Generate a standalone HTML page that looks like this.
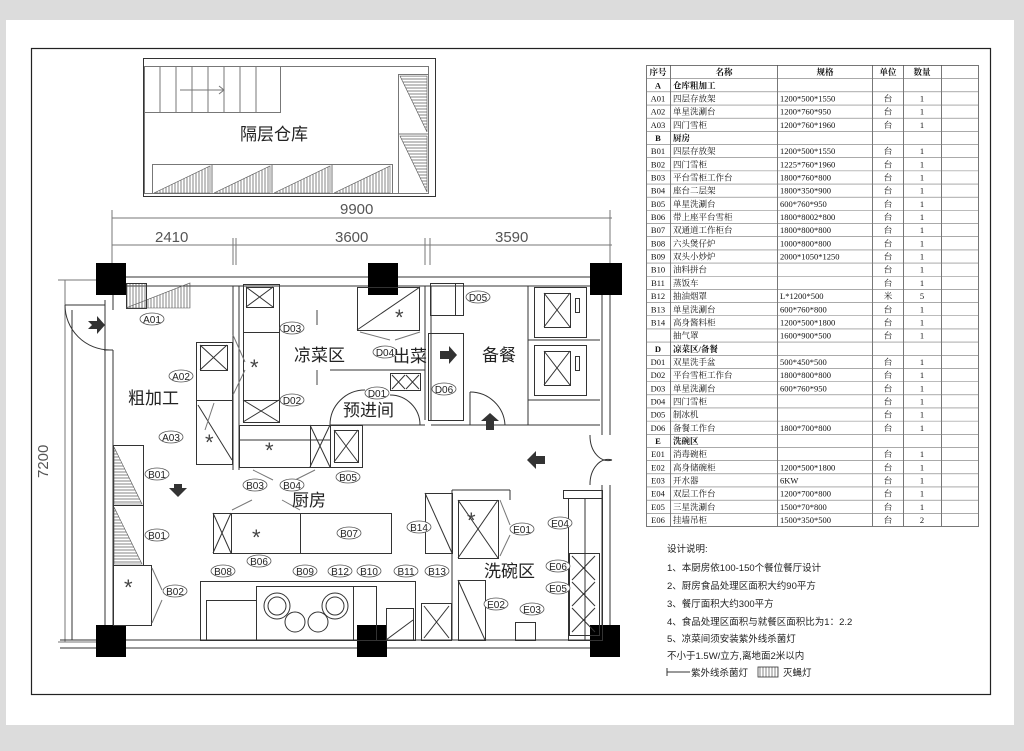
<!DOCTYPE html>
<html><head><meta charset="utf-8"><style>
html,body{margin:0;padding:0;background:#dcdcdc;}
svg{display:block}
text{font-family:"Liberation Sans","Noto Sans CJK SC",sans-serif;fill:#222}
.t{font-family:"Liberation Serif","Noto Serif CJK SC",serif;font-size:8.5px;fill:#111}
.l{fill:none;stroke:#333;stroke-width:1}
.g{fill:none;stroke:#777;stroke-width:1}
.lb{font-size:10px;fill:#333;text-anchor:middle;font-family:"Liberation Serif",serif}
.ov{fill:#fff;stroke:#555;stroke-width:0.8}
.rm{font-size:17px;fill:#222;font-family:"Liberation Sans","Noto Sans CJK SC",sans-serif}
</style></head><body>
<svg width="1024" height="751" viewBox="0 0 1024 751" xmlns="http://www.w3.org/2000/svg">
<rect x="0" y="0" width="1024" height="751" fill="#dcdcdc"/>
<rect x="6" y="20" width="1008" height="705" fill="#fff"/>
<rect x="31.5" y="48.5" width="959" height="646" fill="none" stroke="#222" stroke-width="1.2"/>

<!-- storage -->
<rect x="143.5" y="58.5" width="292" height="138" class="l"/>
<rect x="144.5" y="66.5" width="284" height="127" class="g"/>
<rect x="144.5" y="66.5" width="136" height="46" class="g"/>
<g class="g"><line x1="160" y1="66" x2="160" y2="112"/><line x1="176" y1="66" x2="176" y2="112"/><line x1="192" y1="66" x2="192" y2="112"/><line x1="208" y1="66" x2="208" y2="112"/><line x1="224" y1="66" x2="224" y2="112"/><line x1="240" y1="66" x2="240" y2="112"/><line x1="256" y1="66" x2="256" y2="112"/><line x1="180" y1="90" x2="224" y2="90"/><polyline points="219,86 224,90 219,94"/></g>
<text x="240" y="140" font-size="17">隔层仓库</text>
<g class="g">
<rect x="152.5" y="164.5" width="240" height="29"/>
<line x1="212" y1="164" x2="212" y2="193"/><line x1="272" y1="164" x2="272" y2="193"/><line x1="332" y1="164" x2="332" y2="193"/>
<rect x="398.5" y="74.5" width="30" height="119"/><line x1="398" y1="134" x2="428" y2="134"/>
</g>
<defs><pattern id="h" width="3" height="3" patternUnits="userSpaceOnUse"><line x1="1" y1="0" x2="1" y2="3" stroke="#666" stroke-width="0.8"/></pattern>
<pattern id="hh" width="3" height="3" patternUnits="userSpaceOnUse"><line x1="0" y1="1" x2="3" y2="1" stroke="#666" stroke-width="0.8"/></pattern></defs>
<g fill="url(#h)" stroke="#555" stroke-width="0.6">
<polygon points="154,193 210,166 210,193"/><polygon points="214,193 270,166 270,193"/><polygon points="274,193 330,166 330,193"/><polygon points="334,193 390,166 390,193"/>
</g>
<g fill="url(#hh)" stroke="#555" stroke-width="0.6">
<polygon points="400,76 427,76 427,132"/><polygon points="400,136 427,136 427,192"/>
</g>

<!-- dimensions -->
<g class="g">
<line x1="112" y1="218" x2="612" y2="218"/>
<line x1="112" y1="245" x2="612" y2="245"/>
<line x1="112" y1="210" x2="112" y2="265"/><line x1="233" y1="238" x2="233" y2="265"/><line x1="236" y1="238" x2="236" y2="265"/>
<line x1="425" y1="238" x2="425" y2="265"/><line x1="430" y1="238" x2="430" y2="265"/><line x1="610" y1="210" x2="610" y2="265"/>
<line x1="65" y1="280" x2="65" y2="642"/><line x1="58" y1="280" x2="112" y2="280"/><line x1="58" y1="642" x2="112" y2="642"/>
</g>
<g font-size="15" fill="#555"><text x="340" y="214" style="fill:#555">9900</text><text x="155" y="242" style="fill:#555">2410</text><text x="335" y="242" style="fill:#555">3600</text><text x="495" y="242" style="fill:#555">3590</text>
<text transform="translate(48,478) rotate(-90)" style="fill:#555">7200</text></g>

<!-- walls -->
<g class="l">
<line x1="96" y1="277" x2="612" y2="277"/><line x1="126" y1="286" x2="600" y2="286"/>
<line x1="105" y1="300" x2="105" y2="640"/><line x1="113" y1="440" x2="113" y2="625"/><line x1="65" y1="305" x2="105" y2="305"/><line x1="113" y1="295" x2="113" y2="310"/>
<line x1="72" y1="310" x2="72" y2="640"/>
<path d="M65,305 A45,45 0 0 0 110,350"/><line x1="104" y1="350" x2="113" y2="350"/><line x1="113" y1="350" x2="113" y2="440"/>
<line x1="233" y1="286" x2="233" y2="470"/><line x1="239" y1="286" x2="239" y2="470"/>
<line x1="425" y1="286" x2="425" y2="420"/><line x1="431" y1="286" x2="431" y2="420"/>
<line x1="602" y1="290" x2="602" y2="435"/><line x1="610" y1="290" x2="610" y2="435"/><line x1="602" y1="485" x2="602" y2="625"/><line x1="610" y1="485" x2="610" y2="625"/>
<path d="M590,435 A18,25 0 0 0 612,460 M590,485 A18,25 0 0 1 612,460"/>
<line x1="60" y1="640" x2="620" y2="640"/><line x1="60" y1="648" x2="620" y2="648"/>
<line x1="330" y1="370" x2="425" y2="370"/><line x1="330" y1="425" x2="425" y2="425"/>
<path d="M330,425 A35,35 0 0 1 365,390"/><path d="M420,425 A30,30 0 0 0 390,395"/>
<line x1="470" y1="392" x2="470" y2="425"/><path d="M470,392 A35,35 0 0 1 505,425"/>
<line x1="431" y1="425" x2="600" y2="425"/>
<line x1="528" y1="286" x2="528" y2="425"/>
<line x1="452" y1="490" x2="510" y2="490"/><line x1="452" y1="490" x2="452" y2="640"/><line x1="510" y1="490" x2="510" y2="500"/>
</g>
<g fill="#000"><rect x="96" y="263" width="30" height="32"/><rect x="368" y="263" width="30" height="32"/><rect x="590" y="263" width="32" height="32"/>
<rect x="96" y="625" width="30" height="32"/><rect x="357" y="625" width="30" height="32"/><rect x="590" y="625" width="30" height="32"/></g>

<!-- equipment -->
<g class="l">
<rect x="126.5" y="283.5" width="20" height="25" fill="url(#h)"/>
<rect x="196.5" y="342.5" width="36" height="58"/><rect x="200.5" y="345.5" width="27" height="25"/><path d="M200,345 L227,370 M227,345 L200,370"/>
<rect x="196.5" y="400.5" width="36" height="64"/><line x1="198" y1="405" x2="232" y2="460"/>
<rect x="243.5" y="284.5" width="36" height="48"/><rect x="246.5" y="287.5" width="27" height="20"/><path d="M246,287 L273,307 M273,287 L246,307"/>
<rect x="243.5" y="332.5" width="36" height="68"/>
<rect x="243.5" y="400.5" width="36" height="22"/><path d="M243,400 L279,422 M279,400 L243,422"/>
<rect x="239.5" y="425.5" width="91" height="42"/><line x1="239" y1="440" x2="330" y2="440"/><rect x="310.5" y="425.5" width="20" height="42"/><path d="M310,425 L330,467 M330,425 L310,467"/>
<rect x="330.5" y="425.5" width="32" height="42"/><rect x="334.5" y="430.5" width="24" height="32"/><path d="M334,430 L358,462 M358,430 L334,462"/>
<rect x="113.5" y="445.5" width="30" height="60"/><rect x="113.5" y="505.5" width="30" height="60"/>
<rect x="113.5" y="565.5" width="38" height="60"/>
<rect x="213.5" y="513.5" width="87" height="40"/><rect x="213.5" y="513.5" width="18" height="40"/><path d="M213,513 L231,553 M231,513 L213,553"/>
<rect x="300.5" y="513.5" width="91" height="40"/>
<rect x="425.5" y="493.5" width="27" height="60"/><line x1="425" y1="493" x2="452" y2="553"/>
<rect x="458.5" y="500.5" width="40" height="58"/><path d="M458,500 L498,558 M498,500 L458,558"/>
<rect x="357.5" y="287.5" width="62" height="43"/><line x1="357" y1="330" x2="420" y2="287"/>
<rect x="430.5" y="283.5" width="33" height="32"/><rect x="455.5" y="283.5" width="8" height="32"/>
<rect x="428.5" y="333.5" width="35" height="87"/>
<rect x="390.5" y="373.5" width="30" height="17"/><path d="M392,375 L405,389 M405,375 L392,389 M406,375 L419,389 M419,375 L406,389"/>
<rect x="534.5" y="287.5" width="52" height="50"/><rect x="544.5" y="293.5" width="26" height="34"/><path d="M544,293 L570,327 M570,293 L544,327"/><rect x="575.5" y="298.5" width="4" height="14"/>
<rect x="534.5" y="345.5" width="52" height="50"/><rect x="544.5" y="351.5" width="26" height="34"/><path d="M544,351 L570,385 M570,351 L544,385"/><rect x="575.5" y="356.5" width="4" height="14"/>
<line x1="528" y1="340" x2="600" y2="340"/><line x1="528" y1="400" x2="600" y2="400"/>
<rect x="200.5" y="581.5" width="215" height="59"/>
<rect x="206.5" y="600.5" width="50" height="40"/>
<rect x="256.5" y="586.5" width="97" height="54"/><rect x="353.5" y="586.5" width="23" height="54"/>
<circle cx="277" cy="606" r="13"/><circle cx="277" cy="606" r="9"/><circle cx="335" cy="606" r="13"/><circle cx="335" cy="606" r="9"/>
<circle cx="295" cy="622" r="10"/><circle cx="318" cy="622" r="10"/>
<rect x="386.5" y="608.5" width="27" height="32"/><line x1="386" y1="640" x2="413" y2="620"/>
<rect x="421.5" y="603.5" width="30" height="37"/><path d="M424,606 L449,638 M449,606 L424,638"/>
<rect x="458.5" y="580.5" width="27" height="60"/><line x1="458" y1="580" x2="485" y2="640"/>
<rect x="515.5" y="622.5" width="20" height="18"/>
<rect x="563.5" y="490.5" width="39" height="8"/><rect x="568.5" y="498.5" width="34" height="142"/><line x1="585" y1="498" x2="585" y2="640"/>
<rect x="569.5" y="553.5" width="30" height="82"/>
<path d="M572,556 L595,580 M595,556 L572,580 M572,582 L595,606 M595,582 L572,606 M572,608 L595,632 M595,608 L572,632"/>
</g>
<g fill="url(#hh)" stroke="#555" stroke-width="0.6"><polygon points="114,447 114,504 142,504"/><polygon points="114,507 114,564 142,564"/></g>
<g fill="url(#h)" stroke="#555" stroke-width="0.6"><polygon points="126,308 190,283 190,308"/></g>
<g font-size="22" fill="#444"><text x="250" y="375" style="fill:#444">*</text><text x="205" y="450" style="fill:#444">*</text><text x="265" y="458" style="fill:#444">*</text><text x="395" y="325" style="fill:#444">*</text><text x="252" y="545" style="fill:#444">*</text><text x="124" y="595" style="fill:#444">*</text><text x="467" y="528" style="fill:#444">*</text></g>
<g class="g" stroke="#444" stroke-width="2.5"><line x1="214" y1="403" x2="205" y2="430"/><line x1="233" y1="335" x2="245" y2="362"/><line x1="233" y1="395" x2="245" y2="370"/><line x1="253" y1="470" x2="273" y2="480"/><line x1="315" y1="470" x2="295" y2="480"/><line x1="232" y1="510" x2="252" y2="500"/><line x1="300" y1="510" x2="282" y2="500"/><line x1="152" y1="568" x2="162" y2="590"/><line x1="152" y1="623" x2="162" y2="600"/><line x1="500" y1="500" x2="510" y2="525"/><line x1="500" y1="556" x2="510" y2="535"/><line x1="360" y1="332" x2="390" y2="340"/><line x1="420" y1="332" x2="395" y2="340"/></g>
<g stroke="#444" stroke-width="1"><line x1="317" y1="310" x2="317" y2="325"/><line x1="317" y1="370" x2="317" y2="385"/></g>

<!-- arrows -->
<g fill="#333">
<polygon points="88,321 97,321 97,316 105,325 97,334 97,329 88,329 92,325"/>
<polygon points="440,351 449,351 449,346 457,355 449,364 449,359 440,359"/>
<polygon points="486,430 486,421 481,421 490,413 499,421 494,421 494,430"/>
<polygon points="545,456 536,456 536,451 527,460 536,469 536,464 545,464"/>
<polygon points="174,484 174,488 169,488 178,497 187,488 182,488 182,484"/>
</g>

<!-- labels -->
<g>
<g class="ov">
<ellipse cx="152" cy="319" rx="12" ry="6"/><ellipse cx="181" cy="376" rx="12" ry="6"/><ellipse cx="171" cy="437" rx="12" ry="6"/>
<ellipse cx="292" cy="328" rx="12" ry="6"/><ellipse cx="292" cy="400" rx="12" ry="6"/><ellipse cx="377" cy="393" rx="12" ry="6"/>
<ellipse cx="478" cy="297" rx="12" ry="6"/><ellipse cx="444" cy="389" rx="12" ry="6"/><ellipse cx="157" cy="474" rx="12" ry="6"/>
<ellipse cx="157" cy="535" rx="12" ry="6"/><ellipse cx="175" cy="591" rx="12" ry="6"/><ellipse cx="255" cy="485" rx="12" ry="6"/>
<ellipse cx="292" cy="485" rx="12" ry="6"/><ellipse cx="348" cy="477" rx="12" ry="6"/><ellipse cx="259" cy="561" rx="12" ry="6"/>
<ellipse cx="349" cy="533" rx="12" ry="6"/><ellipse cx="223" cy="571" rx="12" ry="6"/><ellipse cx="305" cy="571" rx="12" ry="6"/>
<ellipse cx="340" cy="571" rx="12" ry="6"/><ellipse cx="369" cy="571" rx="12" ry="6"/><ellipse cx="406" cy="571" rx="12" ry="6"/>
<ellipse cx="437" cy="571" rx="12" ry="6"/><ellipse cx="419" cy="527" rx="12" ry="6"/><ellipse cx="522" cy="529" rx="12" ry="6"/>
<ellipse cx="560" cy="523" rx="12" ry="6"/><ellipse cx="558" cy="566" rx="12" ry="6"/><ellipse cx="558" cy="588" rx="12" ry="6"/>
<ellipse cx="496" cy="604" rx="12" ry="6"/><ellipse cx="532" cy="609" rx="12" ry="6"/><ellipse cx="385" cy="352" rx="12" ry="6"/>
</g>
<g class="lb">
<text x="152" y="323">A01</text><text x="181" y="380">A02</text><text x="171" y="441">A03</text>
<text x="292" y="332">D03</text><text x="292" y="404">D02</text><text x="377" y="397">D01</text>
<text x="478" y="301">D05</text><text x="444" y="393">D06</text><text x="157" y="478">B01</text>
<text x="157" y="539">B01</text><text x="175" y="595">B02</text><text x="255" y="489">B03</text>
<text x="292" y="489">B04</text><text x="348" y="481">B05</text><text x="259" y="565">B06</text>
<text x="349" y="537">B07</text><text x="223" y="575">B08</text><text x="305" y="575">B09</text>
<text x="340" y="575">B12</text><text x="369" y="575">B10</text><text x="406" y="575">B11</text>
<text x="437" y="575">B13</text><text x="419" y="531">B14</text><text x="522" y="533">E01</text>
<text x="560" y="527">E04</text><text x="558" y="570">E06</text><text x="558" y="592">E05</text>
<text x="496" y="608">E02</text><text x="532" y="613">E03</text><text x="385" y="356">D04</text>
</g>
<text class="rm" x="128" y="404">粗加工</text>
<text class="rm" x="294" y="361">凉菜区</text>
<text class="rm" x="393" y="362">出菜</text>
<text class="rm" x="482" y="361">备餐</text>
<text class="rm" x="343" y="416">预进间</text>
<text class="rm" x="292" y="506">厨房</text>
<text class="rm" x="484" y="577">洗碗区</text>
</g>

<!-- table -->
<g stroke="#555" stroke-width="0.8" fill="none">
<rect x="646.5" y="65.5" width="332" height="461"/>
<line x1="670.5" y1="65" x2="670.5" y2="526"/><line x1="777.5" y1="65" x2="777.5" y2="526"/><line x1="872.5" y1="65" x2="872.5" y2="526"/><line x1="903.5" y1="65" x2="903.5" y2="526"/><line x1="941.5" y1="65" x2="941.5" y2="526"/>
</g>
<g id="rows" stroke="#777" stroke-width="0.6"></g>
<g id="tt"></g>
<script>
(function(){
var rows=[["序号","名称","规格","单位","数量"],["A","仓库粗加工","","",""],["A01","四层存放架","1200*500*1550","台","1"],["A02","单星洗涮台","1200*760*950","台","1"],["A03","四门雪柜","1200*760*1960","台","1"],["B","厨房","","",""],["B01","四层存放架","1200*500*1550","台","1"],["B02","四门雪柜","1225*760*1960","台","1"],["B03","平台雪柜工作台","1800*760*800","台","1"],["B04","座台二层架","1800*350*900","台","1"],["B05","单星洗涮台","600*760*950","台","1"],["B06","带上座平台雪柜","1800*8002*800","台","1"],["B07","双通道工作柜台","1800*800*800","台","1"],["B08","六头煲仔炉","1000*800*800","台","1"],["B09","双头小炒炉","2000*1050*1250","台","1"],["B10","油料拼台","","台","1"],["B11","蒸饭车","","台","1"],["B12","抽油烟罩","L*1200*500","米","5"],["B13","单星洗涮台","600*760*800","台","1"],["B14","高身酱料柜","1200*500*1800","台","1"],["","抽气罩","1600*900*500","台","1"],["D","凉菜区/备餐","","",""],["D01","双星洗手盆","500*450*500","台","1"],["D02","平台雪柜工作台","1800*800*800","台","1"],["D03","单星洗涮台","600*760*950","台","1"],["D04","四门雪柜","","台","1"],["D05","制冰机","","台","1"],["D06","备餐工作台","  1800*700*800","台","1"],["E","洗碗区","","",""],["E01","消毒碗柜","","台","1"],["E02","高身储碗柜","1200*500*1800","台","1"],["E03","开水器","6KW","台","1"],["E04","双层工作台","1200*700*800","台","1"],["E05","三星洗涮台","1500*70*800","台","1"],["E06","挂墙吊柜","1500*350*500","台","2"]];
var ns="http://www.w3.org/2000/svg",rg=document.getElementById("rows"),tg=document.getElementById("tt");
var h=461/35;
for(var i=0;i<35;i++){var y=65.5+h*i;
if(i>0){var l=document.createElementNS(ns,"line");l.setAttribute("x1",646);l.setAttribute("x2",978);l.setAttribute("y1",y);l.setAttribute("y2",y);rg.appendChild(l);}
var r=rows[i],xs=[658,673,780,888,922],an=["middle","start","start","middle","middle"];
if(i==0){xs=[658,724,825,888,922];an=["middle","middle","middle","middle","middle"];}
for(var j=0;j<5;j++){if(!r[j])continue;var t=document.createElementNS(ns,"text");t.setAttribute("class","t");t.setAttribute("x",xs[j]);t.setAttribute("y",y+h-3.5);t.setAttribute("text-anchor",an[j]);if(i==0||j==1&&r[0].length==1||j==0&&r[0].length==1)t.setAttribute("font-weight","bold");t.textContent=r[j];tg.appendChild(t);}
}})();
</script>

<!-- notes -->
<g font-size="9.5" style="font-family:'Liberation Sans','Noto Sans CJK SC',sans-serif">
<text x="667" y="552">设计说明:</text>
<text x="667" y="571">1、本厨房依100-150个餐位餐厅设计</text>
<text x="667" y="589">2、厨房食品处理区面积大约90平方</text>
<text x="667" y="607">3、餐厅面积大约300平方</text>
<text x="667" y="625">4、食品处理区面积与就餐区面积比为1：2.2</text>
<text x="667" y="642">5、凉菜间须安装紫外线杀菌灯</text>
<text x="667" y="659">不小于1.5W/立方,离地面2米以内</text>
<text x="691" y="676">紫外线杀菌灯</text>
<text x="783" y="676">灭蝇灯</text>
</g>
<g stroke="#333" stroke-width="1"><line x1="667" y1="672" x2="690" y2="672"/><line x1="667" y1="668" x2="667" y2="676"/></g>
<rect x="758" y="667" width="20" height="10" fill="url(#h)" stroke="#333" stroke-width="0.8"/>
</svg>
</body></html>
